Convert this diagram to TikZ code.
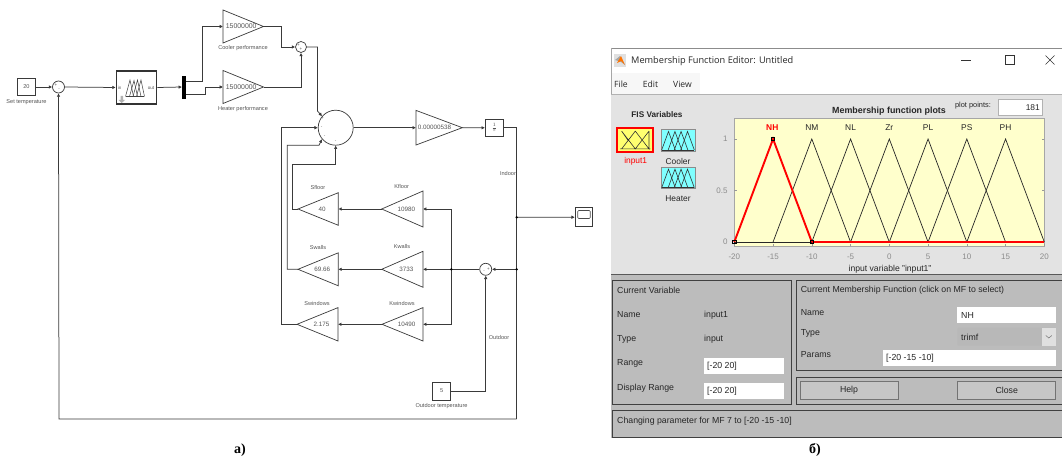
\documentclass[tikz,border=0pt]{standalone}
\usepackage{fontspec}
\setmainfont{Liberation Sans}
\newfontfamily\capfont{Liberation Serif}
\newfontfamily\uifont{Open Sans}
\usetikzlibrary{arrows.meta,calc}
\definecolor{wire}{HTML}{3A3A3A}
\definecolor{txtgray}{HTML}{555555}
\definecolor{panelup}{HTML}{E3E3E3}
\definecolor{panellow}{HTML}{BCBCBC}
\definecolor{plotbg}{HTML}{FFFFCC}
\definecolor{tickgray}{HTML}{8C8C8C}
\definecolor{uitext}{HTML}{262626}
\definecolor{cyanbox}{HTML}{80FFFF}
\definecolor{yelbox}{HTML}{FFFF70}
\definecolor{mfred}{HTML}{FF0000}
\tikzset{
  wireline/.style={draw=wire,line width=.75pt},
  arr/.style={wireline,-{Latex[length=3.4pt,width=3.6pt]}},
  blockbox/.style={draw=wire,line width=.8pt,fill=white,inner sep=0pt,font=\fontsize{5.6}{6}\selectfont,text=txtgray},
  gainline/.style={draw=wire,line width=.7pt,line join=miter},
  gaintext/.style={font=\fontsize{6.3}{7}\selectfont,text=txtgray,inner sep=0pt},
  simlabel/.style={font=\fontsize{5.6}{6}\selectfont,text=txtgray,inner sep=0pt},
  sumcirc/.style={circle,draw=wire,line width=.7pt,fill=white,inner sep=0pt},
  signmark/.style={font=\fontsize{4.5}{5}\selectfont,text=txtgray,inner sep=0pt},
  junct/.style={circle,fill=black,inner sep=0pt,minimum size=2.6pt},
  uilabel/.style={font=\fontsize{8.75}{10}\selectfont,text=uitext,inner sep=0pt,anchor=west},
  uifield/.style={draw=none,fill=white},
  uibox/.style={draw=black!75,line width=.9pt},
  btn/.style={draw=black!55,line width=.7pt,fill=panellow!85!white,inner sep=0pt,font=\fontsize{8.75}{10}\selectfont,text=uitext},
  tickt/.style={font=\fontsize{8}{9}\selectfont,text=tickgray,inner sep=0pt},
  mfname/.style={font=\fontsize{8.4}{9}\selectfont,text=uitext,inner sep=0pt},
  mfline/.style={draw=black!85,line width=.7pt,line join=miter},
  mfsquare/.style={draw=black,line width=.6pt,fill=none,inner sep=0pt,minimum size=3.4pt},
  capt/.style={font=\capfont\bfseries\fontsize{14}{16}\selectfont,inner sep=0pt},
}
% gain: name, x of input side, x of tip, y, half height, text
\newcommand{\gainblock}[6]{%
  \coordinate (#1in) at (#2,#4);
  \coordinate (#1out) at (#3,#4);
  \draw[gainline] (#2,{#4-#5}) -- (#2,{#4+#5}) -- (#3,#4) -- cycle;
  \node[gaintext] (#1txt) at ({(#2*0.6+#3*0.4)},#4) {#6};
}
\begin{document}
\begin{tikzpicture}[x=1pt,y=-1pt]
\useasboundingbox (0,0) rectangle (1062,462);
\fill[white] (0,0) rectangle (1062,462);

%%%%%%%%%%%%%%%%%%%% Simulink part
\node[blockbox,minimum width=18pt,minimum height=17.5pt] (setT) at (26.5,87) {20};
\node[simlabel] (setTl) at (26.5,102.3) {Set temperature};
\node[sumcirc,minimum size=12pt] (s1) at (58.5,87) {};
\node[signmark] (s1a) at (56,85) {+};
\node[signmark] (s1b) at (59,90) {-};
\node[draw=black!80,line width=1.1pt,fill=white,minimum width=40.5pt,minimum height=33pt,inner sep=0pt] (fz) at (136.5,87.5) {};
\draw[line width=.5pt,draw=black!75] (125.5,96.5) -- (144,96.5);
\foreach \p/\h in {130/80,134/80.5,137.5/80,141/80}
  \draw[line width=.5pt,draw=black!75] ({\p-4.5},96.5) -- (\p,\h) -- ({\p+3.5},96.5);
\node[signmark] (fzin) at (119.6,87.6) {in};
\node[signmark] (fzout) at (151,87.6) {out};
\fill[black!30] (120.5,96) rectangle (123,100) (118.5,100) -- (125,100) -- (121.7,103) -- cycle;
\fill[black] (182,76) rectangle (185.5,99);
\coordinate (muxin) at (182,87);
\coordinate (muxa) at (185.5,81);
\coordinate (muxb) at (185.5,94);

\gainblock{cool}{223}{263.5}{26.5}{16.5}{\hspace*{4pt}\fontsize{6.9}{8}\selectfont 15000000}
\node[simlabel] (cooll) at (243,48.3) {Cooler performance};
\gainblock{heat}{223}{263.5}{87}{16.5}{\hspace*{4pt}\fontsize{6.9}{8}\selectfont 15000000}
\node[simlabel] (heatl) at (243,109) {Heater performance};
\node[sumcirc,minimum size=11pt] (s2) at (301,47) {};
\node[signmark] (s2a) at (298.5,45.5) {+};
\node[signmark] (s2b) at (301,49.5) {+};

\node[sumcirc,minimum size=35pt] (big) at (335.7,127.7) {};
\node[signmark] (bigA) at (322.5,118) {+};
\node[signmark] (bigB) at (321.5,127.7) {-};
\node[signmark] (bigC) at (324.5,137) {-};
\node[signmark] (bigD) at (335.7,142) {-};

\gainblock{mass}{416}{462.3}{127.7}{17.3}{0.00000538}
\node[blockbox,minimum width=18pt,minimum height=17.7pt,font=\fontsize{6}{6}\selectfont] (int) at (494.3,127.8) {$\frac{1}{s}$};

\gainblock{kf}{423}{381.7}{209}{18}{10980}
\node[simlabel] (kfl) at (401.7,186) {Kfloor};
\gainblock{sf}{338.3}{298}{209}{16.3}{40}
\node[simlabel] (sfl) at (318,187) {Sfloor};
\gainblock{kw}{423}{381.7}{269.3}{18}{3733}
\node[simlabel] (kwl) at (402,246.7) {Kwalls};
\gainblock{sw}{338.3}{298}{269.3}{16.5}{69.66}
\node[simlabel] (swl) at (318,247.7) {Swalls};
\gainblock{kn}{423}{382}{324.3}{16.7}{10490}
\node[simlabel] (knl) at (402,303) {Kwindows};
\gainblock{sn}{338}{297}{324.3}{16.7}{2.175}
\node[simlabel] (snl) at (317,303) {Swindows};

\node[sumcirc,minimum size=12pt] (s3) at (485.7,269.3) {};
\node[signmark] (s3a) at (488.5,269.3) {+};
\node[signmark] (s3b) at (484,272) {-};
\node[blockbox,minimum width=18pt,minimum height=18pt] (out) at (441.7,391) {5};
\node[simlabel] (outl) at (441.5,405.7) {Outdoor temperature};
\node[simlabel] (outdl) at (499,337.7) {Outdoor};
\node[simlabel] (indl) at (508,173) {Indoor};

\node[blockbox,minimum width=17.5pt,minimum height=19pt] (sc) at (584,217.2) {};
\node[draw=black!70,line width=.6pt,rounded corners=1pt,fill=white,minimum width=12.5pt,minimum height=8pt,inner sep=0pt] (scs) at (584,214.5) {};

\coordinate (jA) at (516.7,217.3);
\coordinate (jB) at (516.7,269.3);
\coordinate (jC) at (451.3,269.3);
\coordinate (fbR) at (516.7,419);

\draw[arr] (setT.east) -- (s1.west);
\draw[arr] (s1.east) -- (fz.west);
\draw[arr] (fz.east) -- (muxin);
\draw[arr] (muxa) -- (202.5,81) |- (coolin);
\draw[arr] (muxb) -- (205,94) |- (heatin);
\draw[arr] (coolout) -- (281,26.5) |- (s2.west);
\draw[arr] (heatout) -| (s2.south);
\draw[arr] (s2.east) -- (317.5,47) -- (317.5,111) -- (big.140);
\draw[arr] (big.east) -- (massin);
\draw[arr] (massout) -- (int.west);
\draw[wireline] (int.east) -- (516.7,127.8) -- (fbR);
\draw[arr] (fbR) -- (59,419) -- (s1.south);
\draw[arr] (jA) -- (sc.west);
\draw[arr] (jB) -- (s3.east);
\draw[arr] (s3.west) -- (kwin);
\draw[arr] (jC) |- (kfin);
\draw[arr] (jC) |- (knin);
\draw[arr] (kfout) -- (sfin);
\draw[arr] (kwout) -- (swin);
\draw[arr] (knout) -- (snin);
\draw[arr] (snout) -- (281,324.3) |- (big.west);
\draw[arr] (swout) -- (287.3,269.3) -- (287.3,145.3) -- (319,145.3) -- (big.220);
\draw[arr] (sfout) -- (292.3,209) |- (335.7,164.3) -- (big.south);
\draw[arr] (out.east) -| (s3.south);
\node[junct] (dA) at (jA) {};
\node[junct] (dB) at (jB) {};
\node[junct] (dC) at (jC) {};

\node[capt] (capa) at (240,450) {a)};

%%%%%%%%%%%%%%%%%%%% MATLAB window
\fill[white] (611,48) rectangle (1062,95);
\fill[black!3] (611,73) rectangle (700,94);
\draw[black!45,line width=.8pt] (611,48) -- (1062,48);
\draw[black!35,line width=.5pt] (611,48) -- (611,275);
\fill[black!12] (613.5,54) rectangle (626,67);
\fill[black!35] (615,60) -- (620,56) -- (625,65) -- (621,62) -- cycle;
\fill[orange!90!red] (617,63) -- (621,56) -- (625,65) -- (621,61) -- cycle;
\node[inner sep=0pt,anchor=west,font=\uifont\fontsize{9.2}{11}\selectfont,text=uitext] (title) at (631,61) {Membership Function Editor: Untitled};
\draw[black!80,line width=.6pt] (961,60.5) -- (971,60.5);
\draw[black!80,line width=.6pt] (1005.5,55.5) rectangle (1014.5,64.5);
\draw[black!80,line width=.6pt] (1045.5,55.5) -- (1054.5,64.5) (1045.5,64.5) -- (1054.5,55.5);
\node[inner sep=0pt,font=\uifont\fontsize{8.6}{10}\selectfont,text=uitext] (mF) at (621,84) {File};
\node[inner sep=0pt,font=\uifont\fontsize{8.6}{10}\selectfont,text=uitext] (mE) at (650.5,84) {Edit};
\node[inner sep=0pt,font=\uifont\fontsize{8.6}{10}\selectfont,text=uitext] (mV) at (682.5,84) {View};

\fill[panelup] (611,95) rectangle (1062,274);
\draw[black!30,line width=.7pt] (611,94.6) -- (1062,94.6);
\fill[panellow] (611,275) rectangle (1062,438);
\draw[black!65,line width=1.2pt] (611,274.6) -- (1062,274.6);

\node[inner sep=0pt,font=\bfseries\fontsize{8.2}{9}\selectfont,text=uitext] (fis) at (657,114.7) {FIS Variables};
% icons
\begin{scope}[shift={(617.3,128.3)},x=36pt,y=-23.4pt]
  \draw[draw=mfred,line width=2pt,fill=yelbox] (0,0) rectangle (1,1);
  \draw[black!80,line width=.6pt] (.12,.12) -- (.5,.88) -- (.88,.12) (.12,.88) -- (.3,.52) -- (.12,.12) (.5,.12) -- (.12,.88) (.5,.12) -- (.88,.88) -- (.88,.12) (.08,.88) -- (.92,.88);
\end{scope}
\foreach \yy/\nn in {129.3/cic,167/hic}{
\begin{scope}[shift={(661,\yy)},x=34pt,y=-21.8pt]
  \draw[draw=black!45,line width=.9pt,fill=cyanbox] (0,0) rectangle (1,1);
  \draw[black!80,line width=.6pt] (.02,.95) -- (.98,.95);
  \foreach \p in {.22,.41,.59,.78}
    \draw[black!80,line width=.6pt] ({\p-.2},.95) -- (\p,.1) -- ({\p+.2},.95);
\end{scope}}
\node[inner sep=0pt,font=\fontsize{8.4}{9}\selectfont,text=mfred] (ilab) at (635.7,161) {input1};
\node[inner sep=0pt,font=\fontsize{8.4}{9}\selectfont,text=uitext] (clab) at (678,161) {Cooler};
\node[inner sep=0pt,font=\fontsize{8.4}{9}\selectfont,text=uitext] (hlab) at (678,199) {Heater};

\node[inner sep=0pt,font=\bfseries\fontsize{8.9}{10}\selectfont,text=uitext] (ptitle) at (889,111) {Membership function plots};
\node[inner sep=0pt,font=\fontsize{7.4}{8}\selectfont,text=uitext] (ppts) at (973,106) {plot points:};
\node[draw=black!30,line width=.5pt,fill=white,minimum width=44.7pt,minimum height=16.4pt,inner sep=0pt] (pfield) at (1020.3,107.5) {};
\node[inner sep=0pt,anchor=east,font=\fontsize{8.4}{9}\selectfont,text=uitext] (pval) at (1040,107.5) {181};

% plot
\fill[plotbg] (734.3,118.7) rectangle (1044.5,246);
\draw[black!35,line width=.5pt] (734.3,118.7) rectangle (1044.5,246);
\begin{scope}[shift={(889.3,242)},x=7.75pt,y=103pt]
  \foreach \t in {-20,-15,...,20}{
    \draw[black!40,line width=.4pt] (\t,-.04) -- (\t,-0.015);
    \node[tickt] (xt\t) at (\t,-.145) {\t};
  }
  \foreach \t/\l in {0/0,.5/0.5,1/1}{
    \draw[black!40,line width=.4pt] (-20,\t) -- (-19.7,\t);
    \draw[black!40,line width=.4pt] (20,\t) -- (19.7,\t);
    \node[tickt,anchor=east] (yt\l) at (-20.85,\t) {\l};
  }
  \foreach \c in {-10,-5,...,15}
    \draw[mfline] ({\c-5},0) -- (\c,1) -- ({\c+5},0);
  \draw[mfline] (-20,0) -- (20,0);
  \draw[mfred,line width=1.9pt,line join=miter] (-20,0) -- (-15,1) -- (-10,0);
  \draw[mfred,line width=1.6pt] (-10,0) -- (20,0);
  \node[mfsquare] (sqA) at (-15,1) {};
  \node[mfsquare] (sqB) at (-10,0) {};
  \node[mfsquare] (sqC) at (-20,0) {};
  \node[inner sep=0pt,font=\bfseries\fontsize{8.4}{9}\selectfont,text=mfred] (nNH) at (-15.1,1.11) {NH};
  \foreach \c/\n in {-10/NM,-5/NL,0/Zr,5/PL,10/PS,15/PH}
    \node[mfname] (n\n) at (\c,1.11) {\n};
\end{scope}
\node[inner sep=0pt,font=\fontsize{8.6}{10}\selectfont,text=uitext] (xlab) at (890,269) {input variable "input1"};

% lower boxes
\draw[uibox] (612.3,280) rectangle (791.3,404);
\draw[uibox] (796,280) rectangle (1064,370.7);
\draw[uibox] (796,377.3) rectangle (1064,404.7);
\draw[uibox] (612.3,410) -- (1064,410) (612.3,410) -- (612.3,437.3) -- (1064,437.3);

\node[uilabel] (cv) at (617,290.3) {Current Variable};
\node[uilabel] (l1) at (617,314.5) {Name};
\node[uilabel] (l2) at (617,339.3) {Type};
\node[uilabel] (l3) at (617,363.3) {Range};
\node[uilabel] (l4) at (617,388.3) {Display Range};
\node[uilabel] (v1) at (704,315) {input1};
\node[uilabel] (v2) at (704,339.3) {input};
\fill[uifield] (704,357.7) rectangle (784.3,374.3);
\fill[uifield] (704,382.7) rectangle (784.3,399.3);
\node[uilabel] (v3) at (707,366.3) {[-20 20]};
\node[uilabel] (v4) at (707,391.3) {[-20 20]};

\node[uilabel] (cm) at (800.7,290.3) {Current Membership Function (click on MF to select)};
\node[uilabel] (m1) at (800.7,312.3) {Name};
\node[uilabel] (m2) at (800.7,333.5) {Type};
\node[uilabel] (m3) at (800.7,355) {Params};
\fill[uifield] (957.3,306.7) rectangle (1055.7,323.3);
\fill[black!28,rounded corners=1pt] (957.3,327.7) rectangle (1055.7,345.7);
\fill[black!12] (1042,328) rectangle (1055.7,345.5);
\draw[black!55,line width=.5pt] (1045.8,335.5) -- (1048.8,338) -- (1051.8,335.5);
\fill[uifield] (882.7,350) rectangle (1055.7,366);
\node[uilabel] (w1) at (961,315.5) {NH};
\node[uilabel] (w2) at (961,337) {trimf};
\node[uilabel] (w3) at (886,358.5) {[-20 -15 -10]};

\node[btn,minimum width=98pt,minimum height=17.6pt] (help) at (849,390.5) {Help};
\node[btn,minimum width=98pt,minimum height=17.6pt] (close) at (1006.7,390.5) {Close};
\node[uilabel] (st) at (617,421) {Changing parameter for MF 7 to [-20 -15 -10]};
\node[capt] (capb) at (815,450) {б)};
\end{tikzpicture}
\end{document}
